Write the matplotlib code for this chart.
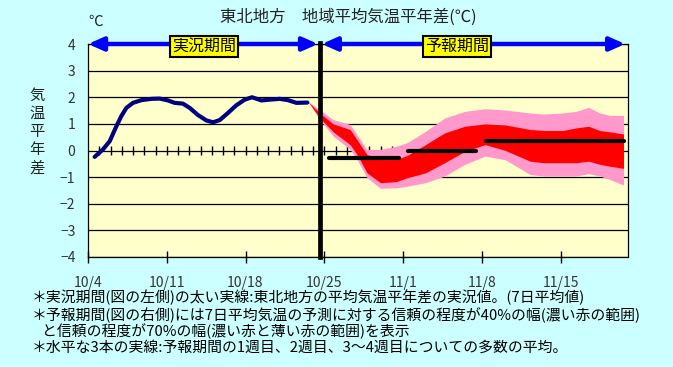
import matplotlib
matplotlib.use("Agg")
import matplotlib.pyplot as plt
from matplotlib.patches import FancyArrowPatch
import numpy as np

plt.rcParams['font.family'] = ['Noto Sans CJK JP', 'DejaVu Sans']

# ---- data ----
x_tick_days = [0, 7, 14, 21, 28, 35, 42]
x_tick_labels = ["10/4", "10/11", "10/18", "10/25", "11/1", "11/8", "11/15"]
y_ticks = [-4, -3, -2, -1, 0, 1, 2, 3, 4]
y_tick_labels = ["\u22124", "\u22123", "\u22122", "\u22121", "0", "1", "2", "3", "4"]

obs_day = [0.59, 1.33, 1.93, 2.52, 2.96, 3.41, 4.0, 4.74, 5.63, 6.37, 7.11, 7.70,
           8.44, 9.04, 9.78, 10.52, 11.11, 11.70, 12.44, 13.19, 13.93, 14.58,
           15.41, 16.15, 17.04, 17.78, 18.52, 19.5]
obs_val = [-0.24, 0.04, 0.35, 0.91, 1.29, 1.60, 1.79, 1.89, 1.94, 1.95, 1.88, 1.79,
           1.76, 1.60, 1.33, 1.13, 1.06, 1.14, 1.41, 1.70, 1.91, 2.00,
           1.88, 1.91, 1.94, 1.89, 1.79, 1.80]

band_day = [19.6, 20.6, 21.8, 23.3, 24.0, 24.8, 26.0, 27.4, 28.4, 30.0, 31.7, 33.5,
            35.3, 37.1, 39.3, 40.5, 42.2, 43.4, 44.5, 45.5, 46.4, 47.6]
pink_up = [1.82, 1.54, 1.16, 0.98, 0.54, 0.04, 0.04, 0.16, 0.30, 0.72, 1.22, 1.47,
           1.57, 1.52, 1.41, 1.37, 1.41, 1.47, 1.62, 1.41, 1.32, 1.32]
red_up = [1.82, 1.41, 1.00, 0.79, 0.35, -0.15, -0.34, -0.34, -0.18, 0.22, 0.66, 0.91,
          1.00, 0.96, 0.79, 0.75, 0.75, 0.85, 0.91, 0.75, 0.70, 0.62]
red_lo = [1.82, 1.22, 0.70, 0.22, -0.21, -0.84, -1.21, -1.17, -1.02, -0.84, -0.46, -0.03,
          0.22, 0.00, -0.40, -0.46, -0.46, -0.46, -0.40, -0.52, -0.59, -0.67]
pink_lo = [1.82, 1.16, 0.54, 0.04, -0.40, -1.02, -1.42, -1.40, -1.34, -1.21, -0.96, -0.52,
           -0.21, -0.35, -0.90, -0.96, -0.96, -0.96, -0.87, -0.96, -1.09, -1.30]

week_start = [21.4, 28.4, 35.4]
week_end = [27.6, 34.5, 47.6]
week_mean = [-0.30, 0.00, 0.35]

split_day = 20.6
obs_label = "実況期間"
fcst_label = "予報期間"
title = "東北地方　地域平均気温平年差(℃)"
ylabel_chars = ["気", "温", "平", "年", "差"]
notes = [
    "＊実況期間(図の左側)の太い実線:東北地方の平均気温平年差の実況値。(7日平均値)",
    "＊予報期間(図の右側)には7日平均気温の予測に対する信頼の程度が40%の幅(濃い赤の範囲)",
    "と信頼の程度が70%の幅(濃い赤と薄い赤の範囲)を表示",
    "＊水平な3本の実線:予報期間の1週目、2週目、3～4週目についての多数の平均。",
]

# ---- figure ----
W, H = 673, 367
fig = plt.figure(figsize=(W / 100, H / 100), dpi=100, facecolor="#CCFFFF")
ax = fig.add_axes([88 / W, (H - 257) / H, (628 - 88) / W, (257 - 44) / H])
ax.set_facecolor("#FFFFCC")
ax.set_xlim(0, 48)
ax.set_ylim(-4, 4)

for yv in y_ticks:
    ax.axhline(yv, color="black", lw=0.9, zorder=1)

# daily ticks on zero line
ax.vlines(np.arange(1, 48), -0.18, 0.18, color="black", lw=1.0, zorder=1)

ax.fill_between(band_day, pink_lo, pink_up, color="#FF99CC", lw=0, zorder=2)
ax.fill_between(band_day, red_lo, red_up, color="#FF0000", lw=0, zorder=3)

ax.plot(obs_day, obs_val, color="#000080", lw=3.0, solid_capstyle="round", zorder=4)

for s, e, m in zip(week_start, week_end, week_mean):
    ax.plot([s, e], [m, m], color="black", lw=3.0, solid_capstyle="round", zorder=5)

ax.plot([split_day, split_day], [-4, 4.05], color="black", lw=3.4, zorder=6,
        clip_on=False)

# arrows at top
arrow_style = "<|-|>,head_length=9,head_width=4"
for x0, x1 in [(0.0, 20.45), (20.78, 47.75)]:
    ar = FancyArrowPatch((x0, 4), (x1, 4), arrowstyle=arrow_style, mutation_scale=1,
                         color="#0000FF", lw=3.2, shrinkA=0, shrinkB=0, zorder=7,
                         clip_on=False)
    ax.add_patch(ar)

for xc, lab in [(10.3, obs_label), (32.8, fcst_label)]:
    ax.text(xc, 3.9, lab, ha="center", va="center", fontsize=11.5, color="black",
            zorder=8, bbox=dict(boxstyle="square,pad=0.12", fc="#FFFF00", ec="black", lw=1.5))

ax.set_xticks(x_tick_days)
ax.set_xticklabels(x_tick_labels, fontsize=10, color="#333333")
ax.set_yticks(y_ticks)
ax.set_yticklabels(y_tick_labels, fontsize=10, color="#333333")
ax.tick_params(axis="x", direction="inout", length=9, width=1, pad=9)
ax.tick_params(axis="y", length=0, pad=9)
for sp in ax.spines.values():
    sp.set_color("black")
    sp.set_linewidth(0.9)

fig.text(348 / W, 1 - 17 / H, title, ha="center", va="center", fontsize=11.8, color="#222222")
fig.text(96 / W, 1 - 22 / H, "℃", ha="center", va="center", fontsize=10.5, color="#222222")
for i, ch in enumerate(ylabel_chars):
    fig.text(37 / W, 1 - (95 + i * 18.3) / H, ch, ha="center", va="center",
             fontsize=11, color="#222222")

note_pos = [(32, 297), (32, 315), (42, 331), (32, 348)]
for (nx, ny), t in zip(note_pos, notes):
    fig.text(nx / W, 1 - ny / H, t, ha="left", va="center", fontsize=10.7, color="black")

fig.savefig("out.png", dpi=100, facecolor=fig.get_facecolor())
